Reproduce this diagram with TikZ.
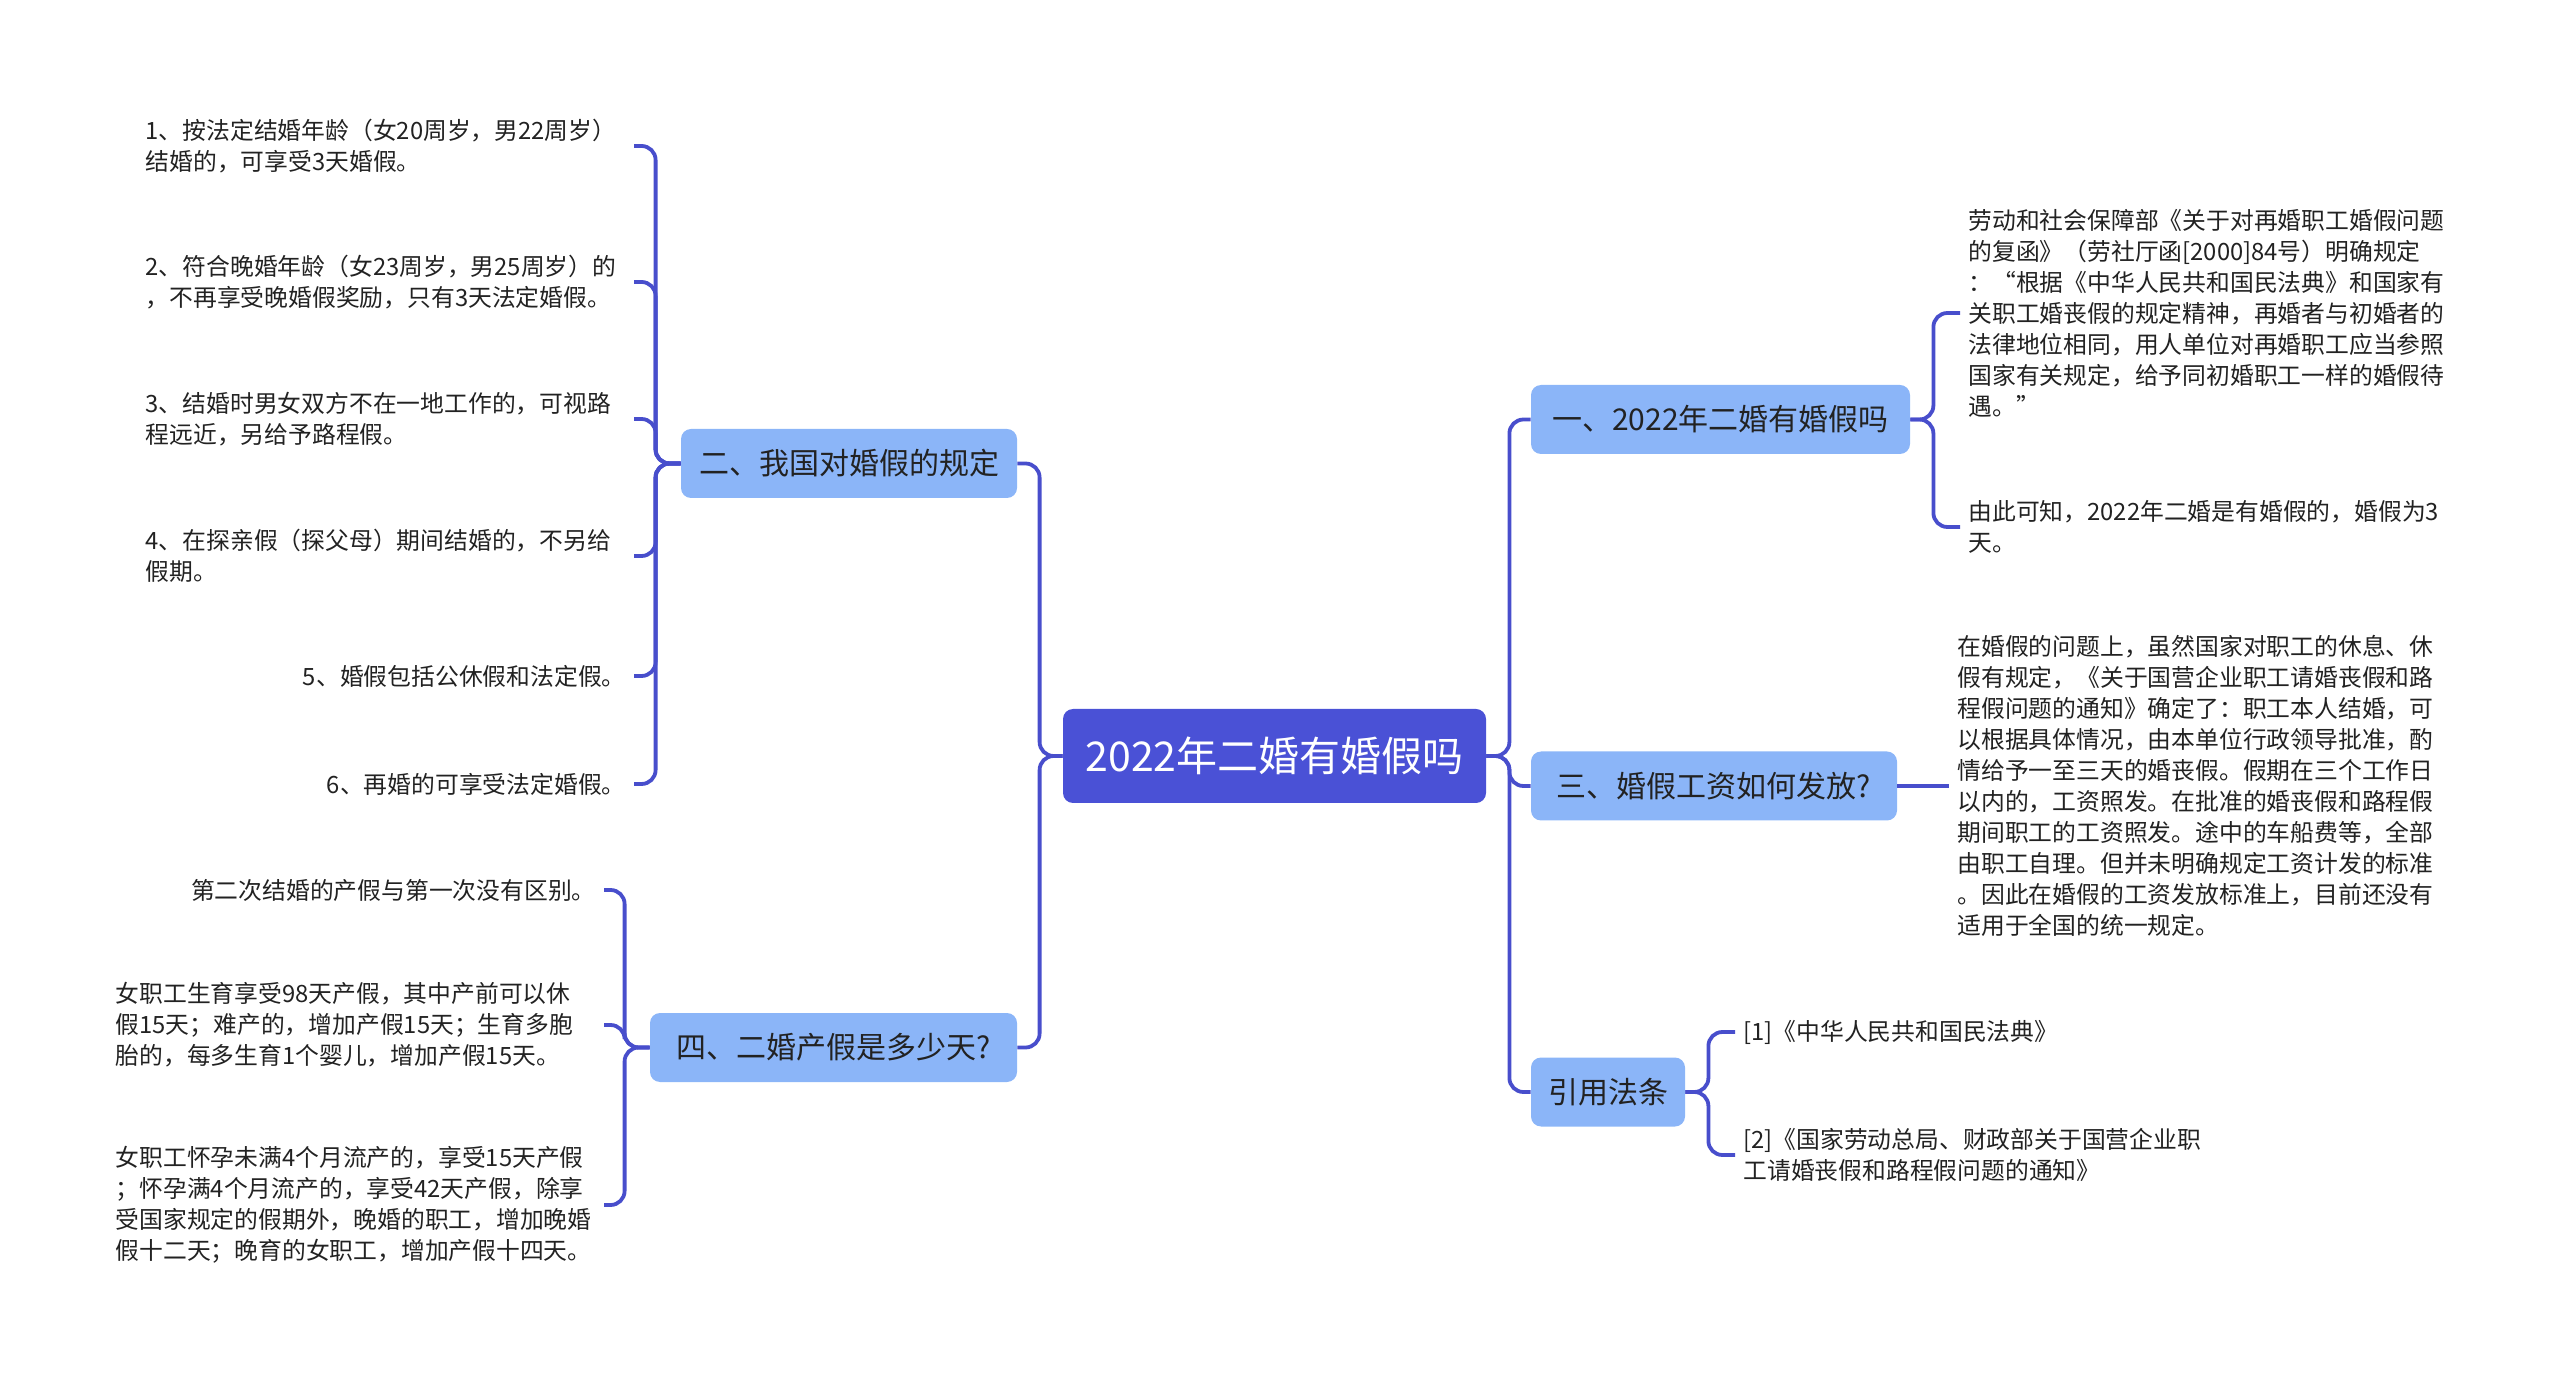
\documentclass[tikz,border=0pt]{standalone}
\usepackage{fontspec}
\newfontfamily\cjk{Noto Sans CJK SC}
\definecolor{RootColor}{RGB}{74,81,214}
\definecolor{BranchColor}{RGB}{139,181,248}
\definecolor{LineColor}{RGB}{72,78,204}
\definecolor{InkColor}{RGB}{34,34,34}

\begin{document}
\begin{tikzpicture}[x=0.5pt, y=-0.5pt,
    rootbox/.style={fill=RootColor, rounded corners=5pt, text=white, font=\cjk\fontsize{20.5}{24}\selectfont, minimum height=47pt, inner sep=0pt},
    branchbox/.style={fill=BranchColor, rounded corners=5pt, text=InkColor, font=\cjk\fontsize{15}{18}\selectfont, minimum height=34.5pt, inner sep=0pt},
    leaf/.style={text=InkColor, font=\cjk\fontsize{11.9}{15.5}\selectfont, align=left, inner xsep=4pt, inner ysep=2pt},
    leftleaf/.style={leaf, anchor=east, text width=240pt},
    shortleaf/.style={leaf, anchor=east},
    rightleaf/.style={leaf, anchor=west},
    link/.style={draw=LineColor, line width=1.9pt, rounded corners=7pt}]
  \useasboundingbox (0,0) rectangle (2560,1384);

  % centre and main branches
  \node[rootbox, minimum width=211.5pt] (root) at (1274.5,756) {2022年二婚有婚假吗};
  \node[branchbox, minimum width=168pt] (b2) at (849,463.5) {二、我国对婚假的规定};
  \node[branchbox, minimum width=183.5pt] (b4) at (833.5,1047.5) {四、二婚产假是多少天?};
  \node[branchbox, minimum width=189.5pt] (b1) at (1720.5,419.5) {一、2022年二婚有婚假吗};
  \node[branchbox, minimum width=183pt] (b3) at (1714,786) {三、婚假工资如何发放?};
  \node[branchbox, minimum width=77pt] (b5) at (1608,1092) {引用法条};

  % left: rules
  \node[leftleaf] (l21) at (634,146) {1、按法定结婚年龄（女20周岁，男22周岁）\\结婚的，可享受3天婚假。};
  \node[leftleaf] (l22) at (634,282) {2、符合晚婚年龄（女23周岁，男25周岁）的\\，不再享受晚婚假奖励，只有3天法定婚假。};
  \node[leftleaf] (l23) at (634,419) {3、结婚时男女双方不在一地工作的，可视路\\程远近，另给予路程假。};
  \node[leftleaf] (l24) at (634,556) {4、在探亲假（探父母）期间结婚的，不另给\\假期。};
  \node[shortleaf] (l25) at (634,676) {5、婚假包括公休假和法定假。};
  \node[shortleaf] (l26) at (634,784) {6、再婚的可享受法定婚假。};

  % left: maternity leave
  \node[shortleaf] (l41) at (604,890) {第二次结婚的产假与第一次没有区别。};
  \node[leftleaf] (l42) at (604,1025) {女职工生育享受98天产假，其中产前可以休\\假15天；难产的，增加产假15天；生育多胞\\胎的，每多生育1个婴儿，增加产假15天。};
  \node[leftleaf] (l43) at (604,1205) {女职工怀孕未满4个月流产的，享受15天产假\\；怀孕满4个月流产的，享受42天产假，除享\\受国家规定的假期外，晚婚的职工，增加晚婚\\假十二天；晚育的女职工，增加产假十四天。};

  % right side
  \node[rightleaf] (l11) at (1960,313) {劳动和社会保障部《关于对再婚职工婚假问题\\的复函》（劳社厅函[2000]84号）明确规定\\：“根据《中华人民共和国民法典》和国家有\\关职工婚丧假的规定精神，再婚者与初婚者的\\法律地位相同，用人单位对再婚职工应当参照\\国家有关规定，给予同初婚职工一样的婚假待\\遇。”};
  \node[rightleaf] (l12) at (1960,527) {由此可知，2022年二婚是有婚假的，婚假为3\\天。};
  \node[rightleaf] (l31) at (1949,786) {在婚假的问题上，虽然国家对职工的休息、休\\假有规定，《关于国营企业职工请婚丧假和路\\程假问题的通知》确定了：职工本人结婚，可\\以根据具体情况，由本单位行政领导批准，酌\\情给予一至三天的婚丧假。假期在三个工作日\\以内的，工资照发。在批准的婚丧假和路程假\\期间职工的工资照发。途中的车船费等，全部\\由职工自理。但并未明确规定工资计发的标准\\。因此在婚假的工资发放标准上，目前还没有\\适用于全国的统一规定。};
  \node[rightleaf] (l51) at (1735,1032) {[1]《中华人民共和国民法典》};
  \node[rightleaf] (l52) at (1735,1155) {[2]《国家劳动总局、财政部关于国营企业职\\工请婚丧假和路程假问题的通知》};

  \draw[link] (root.west) -- ++(-23,0) |- (b2.east);
  \draw[link] (root.west) -- ++(-23,0) |- (b4.east);
  \draw[link] (root.east) -- ++(23,0) |- (b1.west);
  \draw[link] (root.east) -- ++(23,0) |- (b3.west);
  \draw[link] (root.east) -- ++(23,0) |- (b5.west);

  \draw[link] (b2.west) -- ++(-25,0) |- (l21.east);
  \draw[link] (b2.west) -- ++(-25,0) |- (l22.east);
  \draw[link] (b2.west) -- ++(-25,0) |- (l23.east);
  \draw[link] (b2.west) -- ++(-25,0) |- (l24.east);
  \draw[link] (b2.west) -- ++(-25,0) |- (l25.east);
  \draw[link] (b2.west) -- ++(-25,0) |- (l26.east);

  \draw[link] (b4.west) -- ++(-25,0) |- (l41.east);
  \draw[link] (b4.west) -- ++(-25,0) |- (l42.east);
  \draw[link] (b4.west) -- ++(-25,0) |- (l43.east);

  \draw[link] (b1.east) -- ++(23,0) |- (l11.west);
  \draw[link] (b1.east) -- ++(23,0) |- (l12.west);
  \draw[link] (b3.east) -- (l31.west);
  \draw[link] (b5.east) -- ++(23,0) |- (l51.west);
  \draw[link] (b5.east) -- ++(23,0) |- (l52.west);
\end{tikzpicture}
\end{document}
